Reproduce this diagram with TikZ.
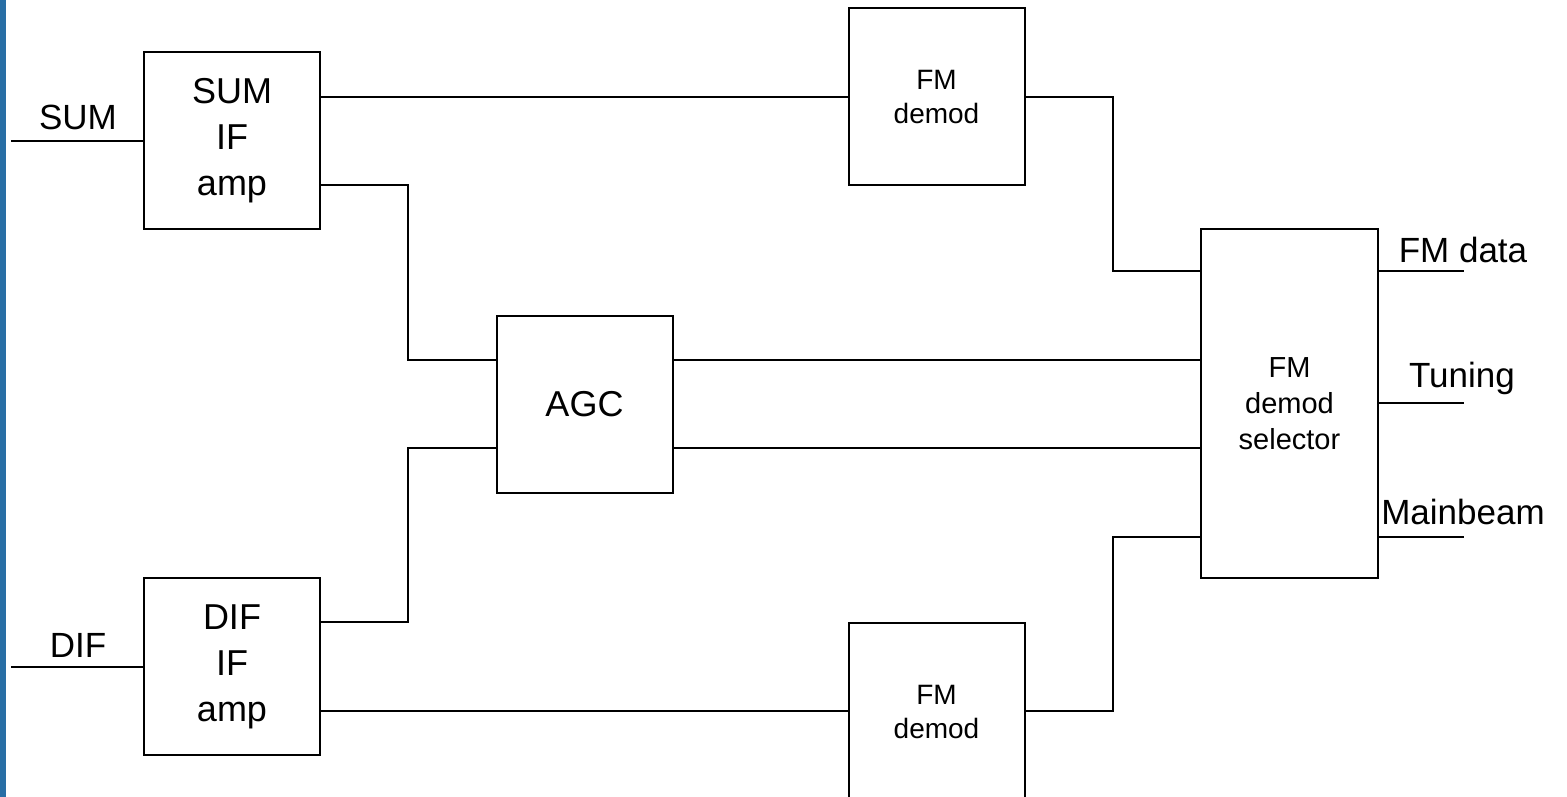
\documentclass[tikz,border=0pt]{standalone}
\usepackage{fontspec}
\setmainfont{Liberation Sans}
\definecolor{strip}{RGB}{40,110,165}
\tikzset{
  blk/.style={draw=black, line width=2pt, minimum width=176pt, minimum height=177pt, inner sep=0pt, align=center},
  big/.style={font=\fontsize{36}{46}\selectfont},
  small/.style={font=\fontsize{28}{34}\selectfont},
  lbl/.style={font=\fontsize{35}{40}\selectfont, inner sep=0pt},
  wire/.style={line width=2pt}
}
\begin{document}
\begin{tikzpicture}[x=1pt,y=-1pt]
\useasboundingbox (0,0) rectangle (1567,797);
\fill[white] (0,0) rectangle (1567,797);
\fill[strip] (0,0) rectangle (6,797);

% blocks
\node[blk, big] (sumamp) at (232,140.5) {SUM\\IF\\amp};
\node[blk, big] (difamp) at (232,666.5) {DIF\\IF\\amp};
\node[blk, small] (fm1) at (936.5,97) {FM\\demod};
\node[blk, small] (fm2) at (936.5,711.5) {FM\\demod};
\node[blk, big] (agc) at (584.5,404) {AGC};
\node[draw=black, line width=2pt, minimum width=177pt, minimum height=349pt, inner sep=0pt, align=center,
      font=\fontsize{29}{36}\selectfont] (sel) at (1289.5,403.5) {FM\\demod\\selector};

% labels
\node[lbl] (lsum) at (78,117) {SUM};
\node[lbl] (ldif) at (78,645) {DIF};
\node[lbl] (lfmd) at (1463,250) {FM data};
\node[lbl] (ltun) at (1462,378) {Tuning};
\node[lbl] (lmb) at (1463,512) {Mainbeam};

% free ends and junctions
\coordinate (sumIn) at (11,141);
\coordinate (difIn) at (11,667);
\coordinate (s1) at (320,97);
\coordinate (s2) at (320,185);
\coordinate (d1) at (320,622);
\coordinate (d2) at (320,711);
\coordinate (a1) at (497,360);
\coordinate (a2) at (497,448);
\coordinate (ao1) at (672,360);
\coordinate (ao2) at (672,448);
\coordinate (si1) at (1201,271);
\coordinate (si2) at (1201,360);
\coordinate (si3) at (1201,448);
\coordinate (si4) at (1201,537);
\coordinate (so1) at (1378,271);
\coordinate (so2) at (1378,403);
\coordinate (so3) at (1378,537);
\coordinate (oe1) at (1464,271);
\coordinate (oe2) at (1464,403);
\coordinate (oe3) at (1464,537);

% connectors
\draw[wire] (sumIn) -- (sumamp.west |- sumIn);
\draw[wire] (difIn) -- (difamp.west |- difIn);
\draw[wire] (s1) -- (fm1.west |- s1);
\draw[wire] (s2) -- (408,185) -- (408,360) -- (a1);
\draw[wire] (d1) -- (408,622) -- (408,448) -- (a2);
\draw[wire] (d2) -- (fm2.west |- d2);
\draw[wire] (fm1.east) -- (1113,97) -- (1113,271) -- (si1);
\draw[wire] (fm2.east |- d2) -- (1113,711) -- (1113,537) -- (si4);
\draw[wire] (ao1) -- (si2);
\draw[wire] (ao2) -- (si3);
\draw[wire] (so1) -- (oe1);
\draw[wire] (so2) -- (oe2);
\draw[wire] (so3) -- (oe3);
\end{tikzpicture}
\end{document}
